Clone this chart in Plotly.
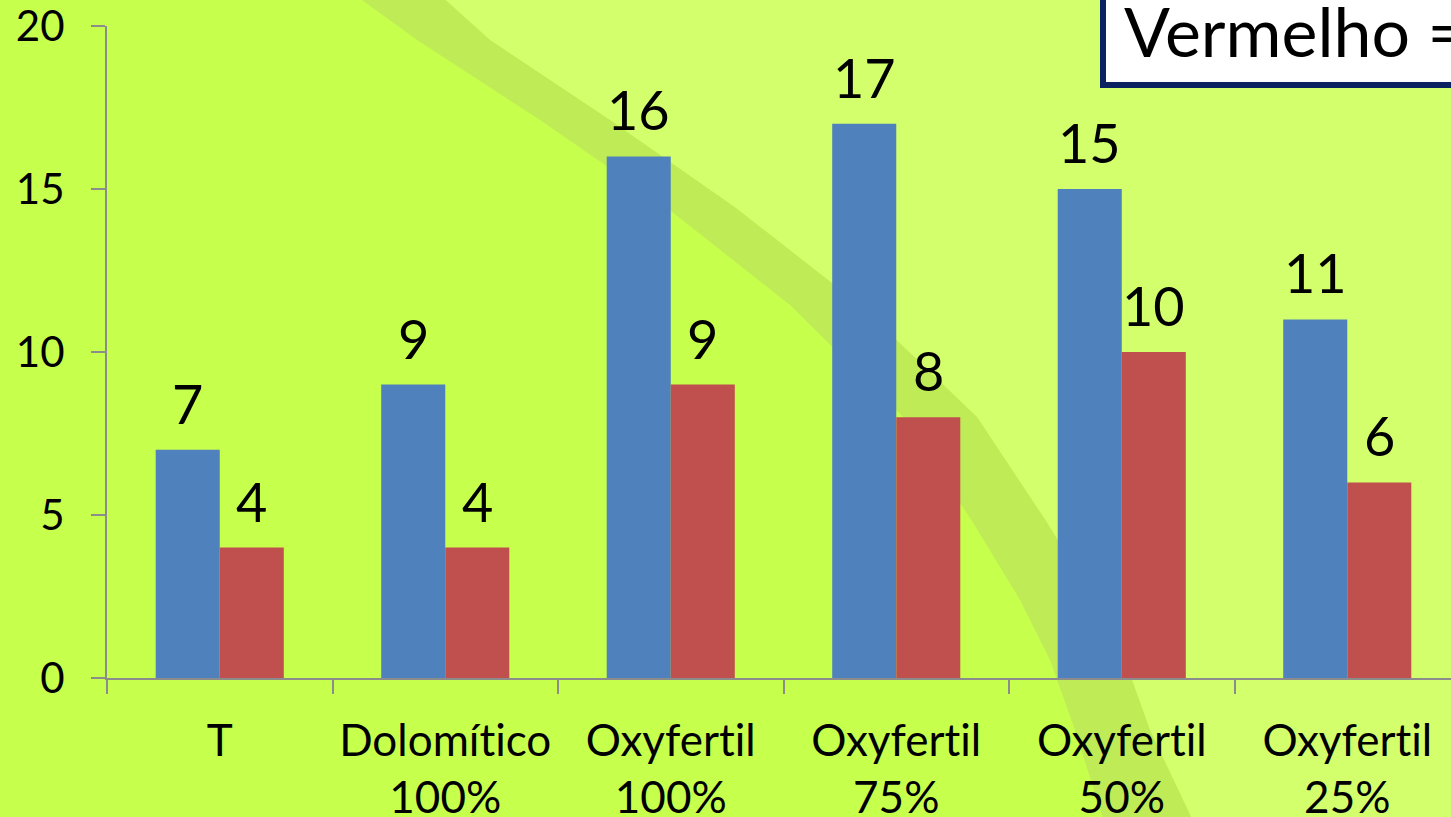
import plotly.graph_objects as go

categories = ["T", "Dolomítico<br>100%", "Oxyfertil<br>100%", "Oxyfertil<br>75%",
              "Oxyfertil<br>50%", "Oxyfertil<br>25%"]
blue_values = [7, 9, 16, 17, 15, 11]
red_values = [4, 4, 9, 8, 10, 6]
y_ticks = [0, 5, 10, 15, 20]

W, H = 1451, 817
ML, MR, MT, MB = 107, 0, 26, 139
PW, PH = W - ML - MR, H - MT - MB

def px(X):
    return (X - ML) / PW

def py(Y):
    return (H - MB - Y) / PH

def path(points):
    return "M " + " L ".join(f"{px(x):.4f},{py(y):.4f}" for x, y in points) + " Z"

band_left = [(355, -5), (417, 40), (540, 120), (667, 208), (790, 305), (903, 417), (972, 521),
             (1020, 600), (1050, 660), (1075, 730), (1105, 825)]
band_right = [(440, -5), (490, 40), (610, 120), (736, 208), (860, 305), (977, 417), (1046, 521),
              (1095, 600), (1125, 660), (1150, 730), (1195, 825)]

FONT = "Lato"
AXC = "#8c8c8c"

fig = go.Figure()
fig.add_trace(go.Bar(x=categories, y=blue_values, marker=dict(color="#4f81bd", line=dict(width=0)),
                     name="Azul", hoverinfo="y"))
fig.add_trace(go.Bar(x=categories, y=red_values, marker=dict(color="#c0504d", line=dict(width=0)),
                     name="Vermelho", hoverinfo="y"))

annotations = []
for c, v in zip(categories, blue_values):
    annotations.append(dict(x=c, y=v, xref="x", yref="y", text=str(v), showarrow=False,
                            xshift=-32, yshift=12, yanchor="bottom",
                            font=dict(family=FONT, size=54, color="black")))
for c, v in zip(categories, red_values):
    annotations.append(dict(x=c, y=v, xref="x", yref="y", text=str(v), showarrow=False,
                            xshift=32, yshift=12, yanchor="bottom",
                            font=dict(family=FONT, size=54, color="black")))
annotations.append(dict(x=px(1122), y=py(31), xref="paper", yref="paper", text="Vermelho =",
                        showarrow=False, xanchor="left", yanchor="middle",
                        font=dict(family=FONT, size=68, color="black")))

shapes = [
    dict(type="path", xref="paper", yref="paper", layer="below",
         path=path(band_right + [(1500, 825), (1500, -5)]),
         fillcolor="#d4ff6c", line=dict(width=0)),
    dict(type="path", xref="paper", yref="paper", layer="below",
         path=path(band_left + band_right[::-1]),
         fillcolor="#bfec56", line=dict(width=0)),
    dict(type="rect", xref="paper", yref="paper", layer="above",
         x0=px(1103), x1=px(1520), y0=py(85), y1=py(-30),
         fillcolor="white", line=dict(color="#0b2260", width=6)),
]

fig.update_layout(
    width=W, height=H, autosize=False,
    margin=dict(l=ML, r=MR, t=MT, b=MB, pad=0, autoexpand=False),
    paper_bgcolor="#c7ff4d", plot_bgcolor="rgba(0,0,0,0)",
    barmode="group", bargap=0.432, bargroupgap=0,
    showlegend=False,
    font=dict(family=FONT, color="black"),
    annotations=annotations, shapes=shapes,
    xaxis=dict(type="category", range=[-0.5, 5.46], showgrid=False, zeroline=False,
               automargin=False,
               showline=True, linecolor=AXC, linewidth=2,
               ticks="outside", tickson="boundaries", ticklen=14, tickcolor=AXC, tickwidth=2,
               tickfont=dict(family=FONT, size=44, color="black"), ticklabelstandoff=23,
               ticklabeloverflow="allow"),
    yaxis=dict(range=[0, 20], tickvals=y_ticks, showgrid=False, zeroline=False,
               automargin=False,
               showline=True, linecolor=AXC, linewidth=2,
               ticks="outside", ticklen=14, tickcolor=AXC, tickwidth=2,
               tickfont=dict(family=FONT, size=42, color="black"), ticklabelstandoff=18,
               ticklabeloverflow="allow"),
)

post = ("document.body.style.margin='0';document.body.style.overflow='hidden';"
        "var s=document.createElement('style');"
        "s.textContent='text{font-variant-ligatures:none;font-feature-settings:\"liga\" 0;}';"
        "document.head.appendChild(s);")

fig.write_html("out.html", config={"displayModeBar": False}, post_script=post)
